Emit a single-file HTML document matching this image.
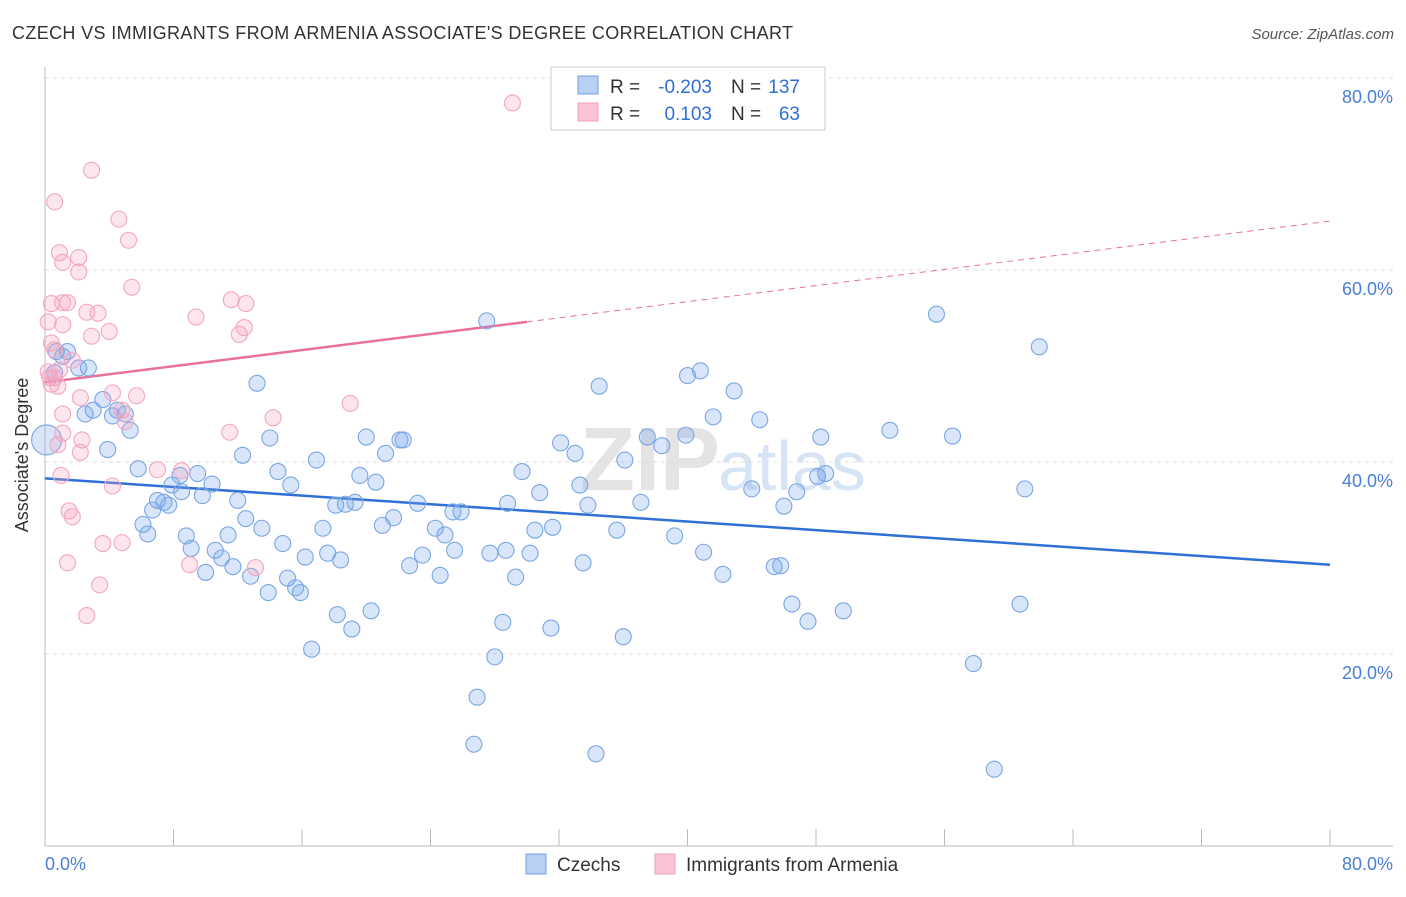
<!DOCTYPE html>
<html><head><meta charset="utf-8"><style>
body{margin:0;background:#fff;font-family:"Liberation Sans",sans-serif}
svg text{font-family:"Liberation Sans",sans-serif}
</style></head><body>
<svg id="chart" width="1406" height="892" viewBox="0 0 1406 892" xmlns="http://www.w3.org/2000/svg">
<text x="12" y="39" font-size="18" fill="#333" textLength="781">CZECH VS IMMIGRANTS FROM ARMENIA ASSOCIATE'S DEGREE CORRELATION CHART</text>
<text x="1394" y="39" font-size="15" fill="#555" text-anchor="end" font-style="italic">Source: ZipAtlas.com</text>
<text x="720" y="490" font-size="90" fill="#e4e4e4" text-anchor="end" font-family="Liberation Serif" font-weight="bold">ZIP</text>
<text x="718" y="490" font-size="70" fill="#d6e4f5">atlas</text>
<g id="grid"></g><g id="axes"></g><g id="trends"></g><g id="pts"></g>
<text x="28" y="455" font-size="18" fill="#333" text-anchor="middle" transform="rotate(-90 28 455)">Associate's Degree</text>
<text x="45" y="870" font-size="18" fill="#4a7fd6">0.0%</text>
<text x="1393" y="870" font-size="18" fill="#4a7fd6" text-anchor="end">80.0%</text>
<g>
<rect x="551" y="67" width="274" height="63" fill="#fff" stroke="#ccc"/>
<rect x="578" y="76" width="20" height="18" fill="#b7d0f4" stroke="#6f9fe0"/>
<rect x="578" y="103" width="20" height="18" fill="#f9c3d4" stroke="#f0a0bb"/>
<text x="610" y="93" font-size="19" fill="#333">R =</text>
<text x="712" y="93" font-size="19" fill="#2f6fd6" text-anchor="end">-0.203</text>
<text x="731" y="93" font-size="19" fill="#333">N =</text>
<text x="800" y="93" font-size="19" fill="#2f6fd6" text-anchor="end">137</text>
<text x="610" y="120" font-size="19" fill="#333">R =</text>
<text x="712" y="120" font-size="19" fill="#2f6fd6" text-anchor="end">0.103</text>
<text x="731" y="120" font-size="19" fill="#333">N =</text>
<text x="800" y="120" font-size="19" fill="#2f6fd6" text-anchor="end">63</text>
</g>
<g>
<rect x="526" y="854" width="20" height="20" fill="#b7d0f4" stroke="#6f9fe0"/>
<text x="557" y="871" font-size="19" fill="#333">Czechs</text>
<rect x="655" y="854" width="20" height="20" fill="#f9c3d4" stroke="#f0a0bb"/>
<text x="686" y="871" font-size="19" fill="#333">Immigrants from Armenia</text>
</g>
</svg>
<script>
const yTicks=[20,40,60,80];
const xTicks=[0,8,16,24,32,40,48,56,64,72,80];
const blueX=[0.1,0.7,1.4,1.1,2.1,2.7,0.6,3.6,3.0,2.5,5.0,4.5,4.2,5.3,3.9,5.8,6.1,6.4,6.7,7.0,7.4,7.7,7.9,8.4,8.5,8.8,9.1,9.5,9.8,10.0,10.4,10.6,11.0,11.4,11.7,12.0,12.3,12.5,12.8,13.2,13.5,13.9,14.0,14.5,14.8,15.3,15.1,15.6,15.9,16.2,16.6,16.9,17.3,17.6,18.1,18.2,18.4,18.7,19.1,19.3,19.6,20.0,20.3,20.6,21.0,21.2,21.7,22.1,22.3,22.7,23.2,23.5,24.3,24.6,24.9,25.4,25.5,25.9,26.9,26.7,27.5,27.7,28.0,28.5,28.7,28.8,29.3,29.7,30.2,30.5,30.8,31.5,31.6,32.1,33.0,33.3,33.5,33.8,34.3,34.5,35.6,36.0,36.1,37.1,37.5,38.4,39.2,39.9,40.0,40.8,41.0,41.6,42.2,42.9,44.0,44.5,45.4,45.8,46.0,46.5,46.8,47.5,48.1,48.3,48.6,49.7,52.6,55.5,56.5,57.8,59.1,60.7,61.0,61.9];
const blueY=[42.3,51.5,51.5,51.0,49.8,49.8,49.3,46.5,45.4,45.0,45.0,45.4,44.8,43.3,41.3,39.3,33.5,32.5,35.0,36.0,35.8,35.5,37.6,38.6,36.9,32.3,31.0,38.8,36.5,28.5,37.7,30.8,30.0,32.4,29.1,36.0,40.7,34.1,28.1,48.2,33.1,26.4,42.5,39.0,31.5,37.6,27.9,26.9,26.4,30.1,20.5,40.2,33.1,30.5,35.5,24.1,29.8,35.6,22.6,35.8,38.6,42.6,24.5,37.9,33.4,40.9,34.2,42.3,42.3,29.2,35.7,30.3,33.1,28.2,32.4,34.8,30.8,34.8,15.5,10.6,54.7,30.5,19.7,23.3,30.8,35.7,28.0,39.0,30.5,32.9,36.8,22.7,33.2,42.0,40.9,37.6,29.5,35.5,9.6,47.9,32.9,21.8,40.2,35.8,42.6,41.7,32.3,42.8,49.0,49.5,30.6,44.7,28.3,47.4,37.2,44.4,29.1,29.2,35.4,25.2,36.9,23.4,38.5,42.6,38.8,24.5,43.3,55.4,42.7,19.0,8.0,25.2,37.2,52.0];
const pinkX=[29.1,2.9,0.6,4.6,5.2,0.9,2.1,1.1,2.1,5.4,0.4,1.1,1.4,2.6,3.3,9.4,11.6,12.5,12.1,12.4,0.2,1.1,2.9,4.0,0.4,0.6,1.7,0.2,0.6,0.4,0.8,2.2,4.2,5.7,4.8,19.0,14.2,1.1,5.0,11.5,1.1,2.3,0.8,2.2,1.0,7.0,8.5,4.2,1.5,1.7,3.6,4.8,1.4,9.0,13.1,3.4,2.6,0.3,0.9];
const pinkY=[77.4,70.4,67.1,65.3,63.1,61.8,61.3,60.8,59.8,58.2,56.5,56.6,56.6,55.6,55.5,55.1,56.9,56.5,53.3,54.0,54.6,54.3,53.1,53.6,52.4,51.7,50.6,49.4,48.8,48.1,47.9,46.7,47.2,46.9,45.4,46.1,44.6,45.0,44.2,43.1,43.0,42.3,41.8,41.0,38.6,39.2,39.1,37.5,34.9,34.3,31.5,31.6,29.5,29.3,29.0,27.2,24.0,48.8,49.6];
const blueTrend=[38.3,29.3];
const pinkTrend=[48.3,65.1];
const X=v=>45+v*(1285/80), Y=v=>846-v*9.6;
const NS='http://www.w3.org/2000/svg';
function mk(t,p,a){const e=document.createElementNS(NS,t);for(const k in a)e.setAttribute(k,a[k]);p.appendChild(e);return e;}
const grid=document.getElementById('grid'),axes=document.getElementById('axes'),tr=document.getElementById('trends'),pts=document.getElementById('pts');
yTicks.forEach(t=>{
 const l=mk('line',grid,{x1:45,x2:1393,y1:Y(t),y2:Y(t),stroke:'#ddd','stroke-dasharray':'4 4'});
 
 
 const tx=mk('text',grid,{x:1393,y:Y(t)+25,'font-size':18,fill:'#4a7fd6','text-anchor':'end'});tx.textContent=t.toFixed(1)+'%';
 
 
});
const ya=mk('line',axes,{x1:45,x2:45,y1:67,y2:846,stroke:'#bbb'});


const xa=mk('line',axes,{x1:45,x2:1393,y1:846,y2:846,stroke:'#bbb'});


xTicks.forEach(t=>{const l=mk('line',axes,{x1:X(t),x2:X(t),y1:829,y2:846,stroke:'#bbb'});
 
 });
function dot(x,y,r,fill,stroke,name){const c=mk('circle',pts,{cx:X(x),cy:Y(y),r:r,fill:fill,stroke:stroke,'stroke-width':1.1});
 
 }
blueX.forEach((x,i)=>dot(x,blueY[i],i===0?15:8,'rgba(120,165,235,0.28)','#7aa6e4','czech-point'));
pinkX.forEach((x,i)=>dot(x,pinkY[i],8,'rgba(245,160,190,0.28)','#f2a7c0','armenia-point'));
const bt=mk('line',tr,{x1:X(0),y1:Y(blueTrend[0]),x2:X(80),y2:Y(blueTrend[1]),stroke:'#2f6fd6','stroke-width':2.5});


const pm=pinkTrend[0]+(pinkTrend[1]-pinkTrend[0])*30/80;
const ps=mk('line',tr,{x1:X(0),y1:Y(pinkTrend[0]),x2:X(30),y2:Y(pm),stroke:'#e8709a','stroke-width':2.5});


const pd=mk('line',tr,{x1:X(30),y1:Y(pm),x2:X(80),y2:Y(pinkTrend[1]),stroke:'#e8709a','stroke-width':1,'stroke-dasharray':'6 5'});


</script>
</body></html>
